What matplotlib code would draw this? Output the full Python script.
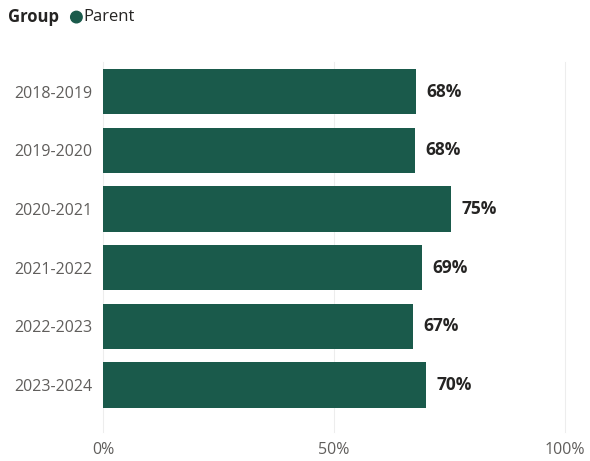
import matplotlib
matplotlib.use("Agg")
import matplotlib.pyplot as plt

categories = ["2018-2019", "2019-2020", "2020-2021", "2021-2022", "2022-2023", "2023-2024"]
values = [67.7, 67.6, 75.3, 69.1, 67.2, 69.9]
xticks = [0, 50, 100]
xticklabels = ["0%", "50%", "100%"]
legend_title = "Group"
series_name = "Parent"

bar_color = "#1A5A4B"
font = ["Open Sans", "DejaVu Sans"]
plt.rcParams["font.family"] = font

fig = plt.figure(figsize=(5.9, 4.61), dpi=100)
ax = fig.add_axes([0.1746, 0.1013, 0.9576 - 0.1746, 0.8646 - 0.1013])

y = list(range(len(categories)))
ax.barh(y, values, height=0.77, color=bar_color, zorder=2)
ax.set_ylim(len(categories) - 0.5, -0.5)
ax.set_xlim(0, 100)

for yi, v in zip(y, values):
    ax.text(v + 2.2, yi, f"{v:.0f}%", va="center", ha="left",
            fontsize=12.5, fontweight="bold", color="#252423")

ax.set_yticks(y)
ax.set_yticklabels(categories, fontsize=11.5, color="#605E5C")
ax.set_xticks(xticks)
ax.set_xticklabels(xticklabels, fontsize=11.5, color="#605E5C")
ax.tick_params(axis="both", length=0)
ax.tick_params(axis="y", pad=8)
ax.tick_params(axis="x", pad=20)
for s in ax.spines.values():
    s.set_visible(False)
for xt in xticks:
    ax.axvline(xt, color="#EDEDED", lw=0.8, zorder=1, ymin=-0.05, clip_on=False)

fig.text(0.014, 0.963, legend_title, fontsize=12, fontweight="bold",
         color="#252423", va="center", ha="left")
fig.patches.append(matplotlib.patches.Ellipse((0.1295, 0.963), 0.0195, 0.025,
                                              transform=fig.transFigure,
                                              color=bar_color, figure=fig))
fig.text(0.142, 0.963, series_name, fontsize=12, color="#252423",
         va="center", ha="left")

fig.savefig("out.png", dpi=100, facecolor="white")
